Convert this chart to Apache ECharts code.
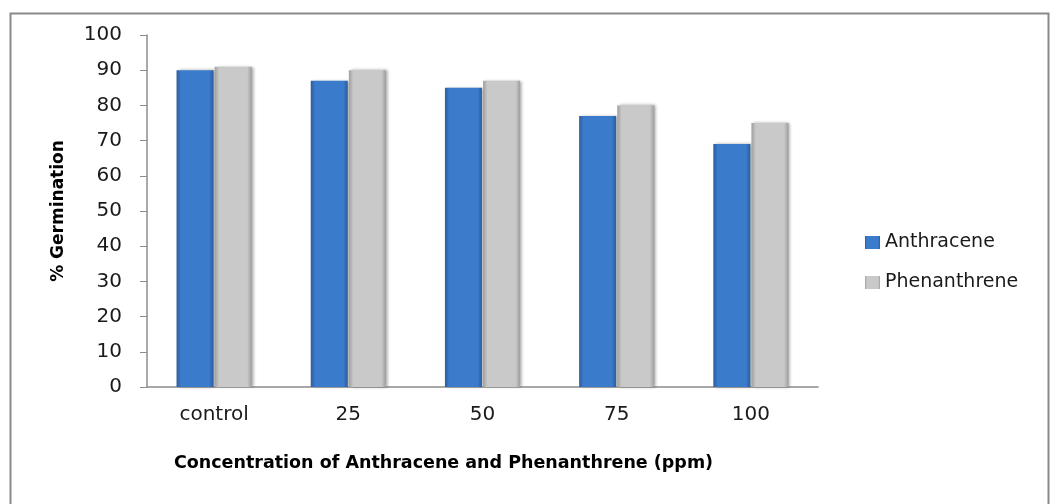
<!DOCTYPE html>
<html>
<head>
<meta charset="utf-8">
<script src="https://cdn.jsdelivr.net/npm/echarts@6/dist/echarts.min.js"></script>
<style>html,body{margin:0;padding:0;background:#fff;}#c{width:1052px;height:504px;}</style>
</head>
<body>
<div id="c"></div>
<script>
var categories = ['control', '25', '50', '75', '100'];
var anthracene = [90, 87, 85, 77, 69];
var phenanthrene = [91, 90, 87, 80, 75];
var seriesNames = ['Anthracene', 'Phenanthrene'];

var chart = echarts.init(document.getElementById('c'));
function hgrad(edge, mid) {
  return new echarts.graphic.LinearGradient(0, 0, 1, 0, [
    {offset: 0, color: edge}, {offset: 0.12, color: mid},
    {offset: 0.88, color: mid}, {offset: 1, color: edge}
  ]);
}
var font = 'DejaVu Sans';
chart.setOption({
  animation: false,
  backgroundColor: '#fff',
  graphic: [{
    type: 'rect', left: 8, top: 11,
    shape: {width: 1038, height: 520},
    style: {fill: 'none', stroke: '#8a8a8a', lineWidth: 2}
  }],
  grid: {left: 147, right: 234, top: 35, bottom: 117},
  legend: {
    orient: 'vertical', left: 860, top: 228,
    itemWidth: 15, itemHeight: 13, itemGap: 21,
    icon: 'rect',
    data: seriesNames,
    textStyle: {fontFamily: font, fontSize: 19, color: '#1a1a1a'}
  },
  xAxis: {
    type: 'category', data: categories,
    axisLine: {lineStyle: {color: '#8c8c8c', width: 1.5}},
    axisTick: {show: false},
    axisLabel: {fontFamily: font, fontSize: 20, color: '#1a1a1a', margin: 18},
    name: 'Concentration of Anthracene and Phenanthrene (ppm)',
    nameLocation: 'middle', nameGap: 67,
    nameTextStyle: {fontFamily: font, fontSize: 17.5, fontWeight: 'bold', color: '#000', padding: [0, 78, 0, 0]}
  },
  yAxis: {
    type: 'value', min: 0, max: 100, interval: 10,
    splitLine: {show: false},
    axisLine: {show: true, lineStyle: {color: '#8c8c8c', width: 1.5}},
    axisTick: {show: true, length: 7, lineStyle: {color: '#8c8c8c'}},
    axisLabel: {fontFamily: font, fontSize: 20, color: '#1a1a1a', margin: 25},
    name: '% Germination', nameLocation: 'middle', nameGap: 80,
    nameTextStyle: {fontFamily: font, fontSize: 17, fontWeight: 'bold', color: '#000'}
  },
  series: [{
    name: seriesNames[0], type: 'bar', data: anthracene,
    barWidth: 37, barGap: '3%',
    itemStyle: {
      color: hgrad('#2c5c9c', '#3b7bcc'),
      shadowColor: 'rgba(0,0,0,0.35)', shadowBlur: 3, shadowOffsetX: 2, shadowOffsetY: 0
    }
  }, {
    name: seriesNames[1], type: 'bar', data: phenanthrene,
    barWidth: 37,
    itemStyle: {
      color: hgrad('#9e9e9e', '#c9c9c9'),
      shadowColor: 'rgba(0,0,0,0.35)', shadowBlur: 3, shadowOffsetX: 2, shadowOffsetY: 0
    }
  }]
});
</script>
</body>
</html>
